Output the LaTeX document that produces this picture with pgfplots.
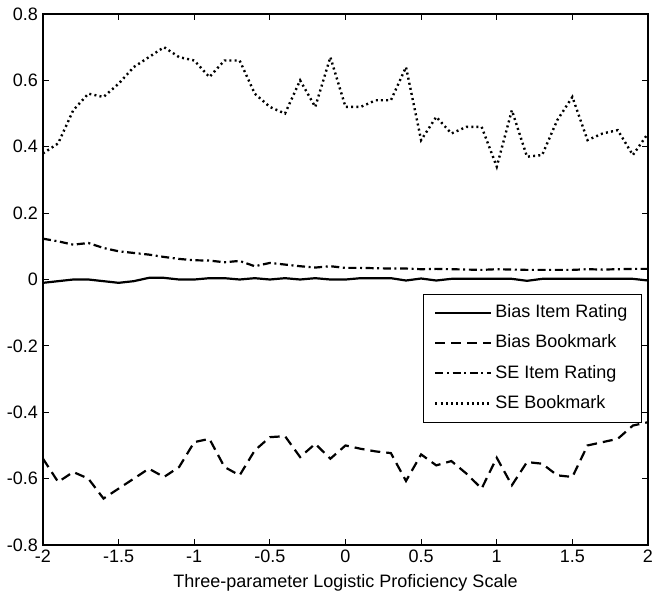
\documentclass[border=0pt]{standalone}
\usepackage{pgfplots}
\pgfplotsset{compat=1.18}
\usepackage{fontspec}
\setmainfont{Liberation Sans}
\begin{document}
\begin{tikzpicture}
\begin{axis}[
  name=ax, scale only axis, width=302.5bp, height=265.5bp,
  xmin=-2, xmax=2, ymin=-0.8, ymax=0.8,
  xtick={-2,-1.5,-1,-0.5,0,0.5,1,1.5,2},
  xticklabels={-2,-1.5,-1,-0.5,0,0.5,1,1.5,2},
  ytick={-0.8,-0.6,-0.4,-0.2,0,0.2,0.4,0.6,0.8},
  yticklabels={-0.8,-0.6,-0.4,-0.2,0,0.2,0.4,0.6,0.8},
  tick align=inside, tick pos=both, major tick length=3bp,
  axis line style={line width=0.6bp},
  every tick/.style={line width=0.6bp, black},
  font=\fontsize{9bp}{10bp}\selectfont,
  xticklabel style={yshift=1bp},
  yticklabel style={xshift=1bp},
  xlabel={Three-parameter Logistic Proficiency Scale},
  xlabel style={yshift=1bp},
  legend style={at={(rel axis cs:0.99,0.4736)}, anchor=north east,
    draw=black, line width=0.6bp, font=\fontsize{9bp}{10bp}\selectfont,
    inner xsep=5.5bp, inner ysep=3.5bp, row sep=3.3bp,
    nodes={inner sep=1.5bp, text height=6.8bp, text depth=2bp},
    legend cell align=left},
  legend image code/.code={\draw[#1] (0bp,0bp) -- (27.8bp,0bp);},
]
\addplot[black, line width=1.1bp] coordinates {
(-2.0,-0.010) (-1.9,-0.005) (-1.8,0.000) (-1.7,0.000) (-1.6,-0.005) (-1.5,-0.010)
(-1.4,-0.005) (-1.3,0.005) (-1.2,0.005) (-1.1,0.000) (-1.0,0.000) (-0.9,0.004)
(-0.8,0.004) (-0.7,0.000) (-0.6,0.004) (-0.5,0.000) (-0.4,0.004) (-0.3,0.000)
(-0.2,0.004) (-0.1,0.000) (0.0,0.000) (0.1,0.004) (0.2,0.004) (0.3,0.004)
(0.4,-0.003) (0.5,0.003) (0.6,-0.003) (0.7,0.002) (0.8,0.002) (0.9,0.002)
(1.0,0.002) (1.1,0.002) (1.2,-0.004) (1.3,0.002) (1.4,0.002) (1.5,0.002)
(1.6,0.002) (1.7,0.002) (1.8,0.002) (1.9,0.002) (2.0,-0.003)
};
\addlegendentry{Bias Item Rating}
\addplot[black, line width=1.1bp, dash pattern=on 5bp off 3bp] coordinates {
(-2.0,-0.540) (-1.9,-0.610) (-1.8,-0.580) (-1.7,-0.600) (-1.6,-0.660) (-1.5,-0.630)
(-1.4,-0.600) (-1.3,-0.570) (-1.2,-0.595) (-1.1,-0.565) (-1.0,-0.490) (-0.9,-0.480)
(-0.8,-0.565) (-0.7,-0.590) (-0.6,-0.515) (-0.5,-0.475) (-0.4,-0.472) (-0.3,-0.535)
(-0.2,-0.495) (-0.1,-0.540) (0.0,-0.500) (0.1,-0.510) (0.2,-0.518) (0.3,-0.523)
(0.4,-0.607) (0.5,-0.527) (0.6,-0.560) (0.7,-0.547) (0.8,-0.585) (0.9,-0.630)
(1.0,-0.537) (1.1,-0.620) (1.2,-0.550) (1.3,-0.555) (1.4,-0.590) (1.5,-0.595)
(1.6,-0.500) (1.7,-0.490) (1.8,-0.480) (1.9,-0.440) (2.0,-0.430)
};
\addlegendentry{Bias Bookmark}
\addplot[black, line width=1.1bp, dash pattern=on 4bp off 1.8bp on 1bp off 1.8bp] coordinates {
(-2.0,0.123) (-1.9,0.115) (-1.8,0.105) (-1.7,0.110) (-1.6,0.095) (-1.5,0.085)
(-1.4,0.080) (-1.3,0.075) (-1.2,0.068) (-1.1,0.062) (-1.0,0.058) (-0.9,0.057)
(-0.8,0.052) (-0.7,0.056) (-0.6,0.040) (-0.5,0.050) (-0.4,0.045) (-0.3,0.040)
(-0.2,0.036) (-0.1,0.040) (0.0,0.035) (0.1,0.035) (0.2,0.034) (0.3,0.033)
(0.4,0.033) (0.5,0.031) (0.6,0.032) (0.7,0.031) (0.8,0.030) (0.9,0.029)
(1.0,0.031) (1.1,0.030) (1.2,0.029) (1.3,0.029) (1.4,0.029) (1.5,0.029)
(1.6,0.031) (1.7,0.030) (1.8,0.031) (1.9,0.032) (2.0,0.032)
};
\addlegendentry{SE Item Rating}
\addplot[black, line width=1.2bp, dash pattern=on 1bp off 1.6bp] coordinates {
(-2.0,0.380) (-1.9,0.410) (-1.8,0.510) (-1.7,0.560) (-1.6,0.550) (-1.5,0.590)
(-1.4,0.640) (-1.3,0.670) (-1.2,0.700) (-1.1,0.670) (-1.0,0.660) (-0.9,0.610)
(-0.8,0.660) (-0.7,0.660) (-0.6,0.560) (-0.5,0.520) (-0.4,0.500) (-0.3,0.600)
(-0.2,0.520) (-0.1,0.670) (0.0,0.520) (0.1,0.520) (0.2,0.540) (0.3,0.540)
(0.4,0.640) (0.5,0.420) (0.6,0.490) (0.7,0.440) (0.8,0.460) (0.9,0.460)
(1.0,0.340) (1.1,0.510) (1.2,0.370) (1.3,0.375) (1.4,0.480) (1.5,0.550)
(1.6,0.420) (1.7,0.440) (1.8,0.450) (1.9,0.375) (2.0,0.440)
};
\addlegendentry{SE Bookmark}
\end{axis}
\pgfresetboundingbox
\path ([shift={(-21.5bp,-26.5bp)}]ax.south west) rectangle ([shift={(4.5bp,7bp)}]ax.north east);
\end{tikzpicture}
\end{document}
